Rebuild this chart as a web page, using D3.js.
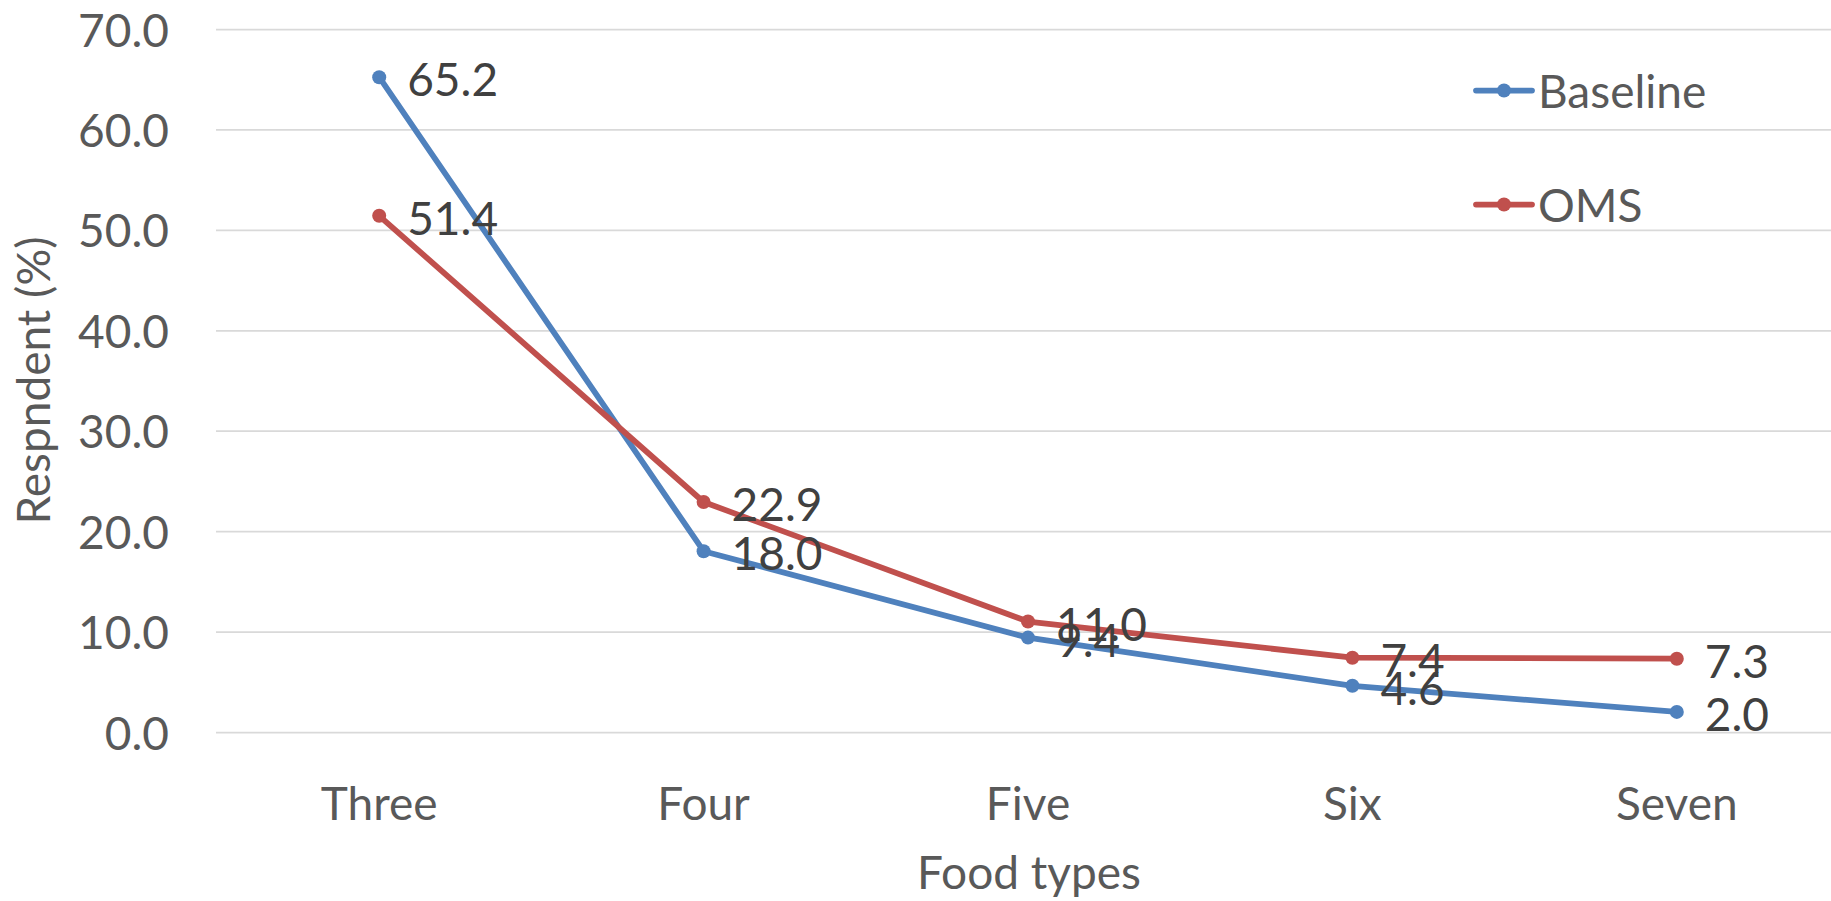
<!DOCTYPE html>
<html>
<head>
<meta charset="utf-8">
<script src="https://cdn.jsdelivr.net/npm/d3@7"></script>
<style>
  html, body { margin: 0; padding: 0; background: #fff; }
  svg { display: block; }
  text { font-family: Lato, "Open Sans", sans-serif; }
</style>
</head>
<body>
<svg id="chart" width="1831" height="901"></svg>
<script>
const categories = ["Three", "Four", "Five", "Six", "Seven"];
const baselineValues = [65.2, 18.0, 9.4, 4.6, 2.0];
const omsValues = [51.4, 22.9, 11.0, 7.4, 7.3];
const yTickValues = [0, 10, 20, 30, 40, 50, 60, 70];
const seriesNames = ["Baseline", "OMS"];
const seriesColors = ["#4F81BD", "#C0504D"];
const xTitle = "Food types";
const yTitle = "Respndent (%)";

const W = 1831, H = 901;
const plotLeft = 216, plotRight = 1831;
const bandLeft = 217, bandRight = 1839;
const plotTop = 29, plotBottom = 732;
const FS = 46;
const LW = 5.75;

const svg = d3.select("#chart");

const x = d3.scaleBand().domain(categories).range([bandLeft, bandRight]).padding(0);
const y = d3.scaleLinear().domain([0, 70]).range([plotBottom, plotTop]);
const cx = c => x(c) + x.bandwidth() / 2;

// gridlines
const grid = svg.append("g")
  .attr("transform", `translate(${plotLeft},0)`)
  .call(d3.axisLeft(y).tickValues(yTickValues).tickSize(-(plotRight - plotLeft)).tickFormat(""));
grid.select(".domain").remove();
grid.selectAll("line").attr("stroke", "#D9D9D9").attr("stroke-width", 1.75);

// y tick labels
const yAxis = svg.append("g")
  .attr("transform", `translate(${plotLeft},0)`)
  .call(d3.axisLeft(y).tickValues(yTickValues).tickSize(0).tickPadding(47).tickFormat(d3.format(".1f")));
yAxis.select(".domain").remove();
yAxis.selectAll("text")
  .attr("font-size", FS).attr("fill", "#595959")
  .attr("font-family", "Lato, 'Open Sans', sans-serif")
  .attr("dy", null).attr("y", 17);

// x tick labels
const xAxis = svg.append("g")
  .attr("transform", `translate(0,${plotBottom})`)
  .call(d3.axisBottom(x).tickSize(0));
xAxis.select(".domain").remove();
xAxis.selectAll("text")
  .attr("font-size", FS).attr("fill", "#595959")
  .attr("font-family", "Lato, 'Open Sans', sans-serif")
  .attr("dy", null).attr("y", 88);

// axis titles
svg.append("text")
  .attr("x", 1029).attr("y", 889)
  .attr("text-anchor", "middle")
  .attr("font-size", FS).attr("fill", "#595959")
  .text(xTitle);

svg.append("text")
  .attr("transform", `translate(50,${(plotTop + plotBottom) / 2}) rotate(-90)`)
  .attr("text-anchor", "middle")
  .attr("font-size", FS).attr("fill", "#595959")
  .text(yTitle);

// series
const series = [
  { name: seriesNames[0], values: baselineValues, color: seriesColors[0] },
  { name: seriesNames[1], values: omsValues, color: seriesColors[1] }
];

const line = d3.line()
  .x((d, i) => cx(categories[i]))
  .y(d => y(d));

series.forEach(s => {
  const g = svg.append("g");
  g.append("path")
    .datum(s.values)
    .attr("d", line)
    .attr("fill", "none")
    .attr("stroke", s.color)
    .attr("stroke-width", LW)
    .attr("stroke-linejoin", "round")
    .attr("stroke-linecap", "round");
  g.selectAll("circle")
    .data(s.values)
    .join("circle")
    .attr("cx", (d, i) => cx(categories[i]))
    .attr("cy", d => y(d))
    .attr("r", 7)
    .attr("fill", s.color);
});

// data labels
series.forEach(s => {
  svg.append("g").selectAll("text")
    .data(s.values)
    .join("text")
    .attr("x", (d, i) => cx(categories[i]) + 28)
    .attr("y", d => y(d) + 19)
    .attr("font-size", FS)
    .attr("fill", "#404040")
    .text(d => d3.format(".1f")(d));
});

// legend
const legendY = [90.5, 204.5];
series.forEach((s, i) => {
  const g = svg.append("g").attr("transform", `translate(0,${legendY[i]})`);
  g.append("line")
    .attr("x1", 1476).attr("x2", 1532)
    .attr("y1", 0).attr("y2", 0)
    .attr("stroke", s.color).attr("stroke-width", LW)
    .attr("stroke-linecap", "round");
  g.append("circle").attr("cx", 1504).attr("cy", 0).attr("r", 7).attr("fill", s.color);
  g.append("text")
    .attr("x", 1538).attr("y", 17)
    .attr("font-size", FS).attr("fill", "#595959")
    .text(s.name);
});
</script>
</body>
</html>
